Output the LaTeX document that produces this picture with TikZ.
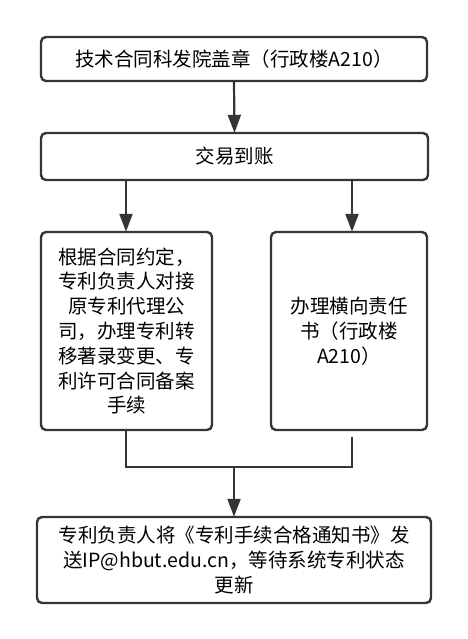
\documentclass[tikz,border=0pt]{standalone}
\usepackage{fontspec}
\setmainfont{Noto Sans CJK SC}
\usetikzlibrary{arrows.meta}
\definecolor{ln}{HTML}{333638}
\tikzset{
  box/.style={draw=ln, line width=2.4pt, rounded corners=5pt, fill=white, inner sep=0pt, align=center, font=\fontsize{19.5}{24.8}\selectfont},
  conn/.style={draw=ln, line width=2.2pt},
  arr/.style={conn, -{Triangle[length=18pt,width=13pt]}, shorten >=-1pt},
}
\begin{document}
\begin{tikzpicture}[x=1pt,y=-1pt]
\useasboundingbox (0,0) rectangle (467,639);
\node[box, minimum width=386pt, minimum height=44pt] (b1) at (234,59) {技术合同科发院盖章（行政楼A210）};
\node[box, minimum width=387pt, minimum height=47pt] (b2) at (234.5,156.5) {交易到账};
\node[box, minimum width=171pt, minimum height=198pt] (l) at (126.5,331) {根据合同约定，\\专利负责人对接\\原专利代理公\\司，办理专利转\\移著录变更、专\\利许可合同备案\\手续};
\node[box, minimum width=156pt, minimum height=198pt] (r) at (349,331) {办理横向责任\\书（行政楼\\A210）};
\node[box, minimum width=394pt, minimum height=86pt] (b3) at (234,560) {专利负责人将《专利手续合格通知书》发\\送IP@hbut.edu.cn，等待系统专利状态\\更新};
\coordinate (jl) at (126,467);
\coordinate (jr) at (352,467);
\coordinate (jm) at (234,467);
\coordinate (rs) at (352,437);
\draw[arr] (b1.south) -- (b2.north);
\draw[arr] (b2.south -| jl) -- (l.north -| jl);
\draw[arr] (b2.south -| jr) -- (r.north -| jr);
\draw[conn] (l.south -| jl) -- (jl) -- (jr) -- (rs);
\draw[arr] (jm) -- (b3.north);
\end{tikzpicture}
\end{document}
